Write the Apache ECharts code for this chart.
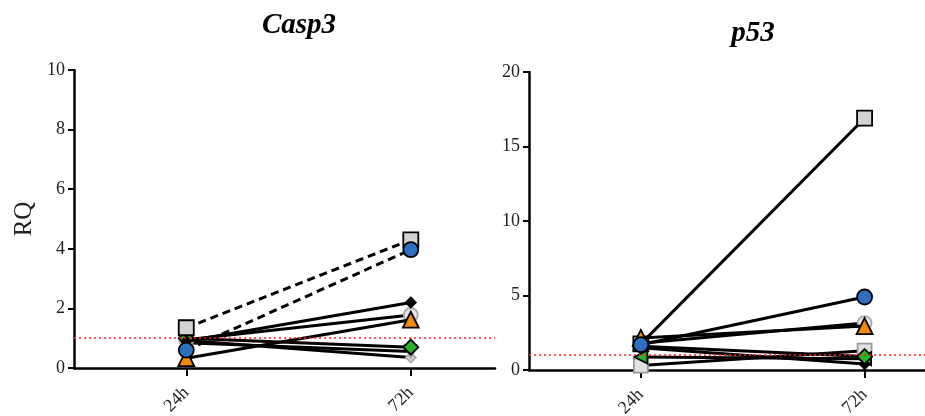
<!DOCTYPE html>
<html><head><meta charset="utf-8">
<script src="https://cdn.jsdelivr.net/npm/echarts@6/dist/echarts.min.js"></script>
<style>html,body{margin:0;padding:0;background:#fff}#c{width:925px;height:416px}</style>
</head><body><div id="c"></div>
<script>
// categories (time points)
const categories = ['24h', '72h'];
const yTicksCasp3 = [0, 2, 4, 6, 8, 10];
const yTicksP53 = [0, 5, 10, 15, 20];

// Casp3 RQ values [24h, 72h]
const casp3_square = [1.35, 4.3];
const casp3_circle = [0.6, 3.97];
const casp3_blackDiamond = [0.9, 2.2];
const casp3_grayCircle = [0.95, 1.78];
const casp3_triangle = [0.33, 1.62];
const casp3_greenDiamond = [1.0, 0.7];
const casp3_grayTriangle = [0.85, 0.55];
const casp3_graySmall = [0.92, 0.35];

// p53 RQ values [24h, 72h]
const p53_square = [1.75, 16.9];
const p53_circle = [1.7, 4.9];
const p53_triangle = [2.15, 2.95];
const p53_grayCircle = [1.8, 3.15];
const p53_greenDiamond = [1.6, 0.9];
const p53_blackDiamond = [1.5, 0.4];
const p53_greenTriangle = [0.87, 0.75];
const p53_graySquare = [0.3, 1.3];

const SERIF = 'Liberation Serif';
const sym = {
  square:  {symbol: 'rect', symbolSize: 15, fill: '#d3d3d3', border: '#000'},
  circle:  {symbol: 'circle', symbolSize: 15, fill: '#2f6fc0', border: '#000'},
  bd:      {symbol: 'diamond', symbolSize: 10, fill: '#000', border: '#000'},
  gc:      {symbol: 'circle', symbolSize: 14, fill: '#e6e6e6', border: '#aaaaaa'},
  tri:     {symbol: 'triangle', symbolSize: 16, fill: '#f08a0c', border: '#000'},
  gd:      {symbol: 'diamond', symbolSize: 15, fill: '#26b526', border: '#000'},
  gt:      {symbol: 'triangle', symbolSize: 13, fill: '#d8d8d8', border: '#aaaaaa', rotate: 180},
  gs:      {symbol: 'diamond', symbolSize: 10, fill: '#d8d8d8', border: '#aaaaaa'},
  gtl:     {symbol: 'triangle', symbolSize: 13, fill: '#26b526', border: '#000', rotate: 90},
  gsq:     {symbol: 'rect', symbolSize: 14, fill: '#e2e2e2', border: '#9a9a9a'}
};

function mk(idx, vals, s, dashed, z) {
  return {
    type: 'line', xAxisIndex: idx, yAxisIndex: idx,
    data: vals.map((v, i) => [i + 1, v]),
    symbol: s.symbol, symbolSize: s.symbolSize, symbolRotate: s.rotate || 0,
    lineStyle: {color: '#000', width: 3, type: dashed ? [8, 5] : 'solid'},
    itemStyle: {color: s.fill, borderColor: s.border, borderWidth: 1.8},
    z: z || 2, animation: false, silent: true
  };
}
function refLine(idx) {
  return {
    type: 'line', xAxisIndex: idx, yAxisIndex: idx, data: [], animation: false,
    markLine: {silent: true, symbol: 'none', label: {show: false},
      lineStyle: {color: '#ff2020', type: [2, 3], width: 1.5},
      data: [{yAxis: 1}]}, z: 1
  };
}
function xAx(idx, max) {
  return {
    type: 'value', gridIndex: idx, min: 0.5, max: max,
    axisLine: {show: true, lineStyle: {color: '#000', width: 2.5}},
    axisTick: {show: true, customValues: [1, 2], length: 8, lineStyle: {color: '#000', width: 2}},
    axisLabel: {customValues: [1, 2], rotate: 45, margin: 22, color: '#222',
      fontFamily: SERIF, fontSize: 18, formatter: v => categories[Math.round(v) - 1] || ''},
    splitLine: {show: false}
  };
}
function yAx(idx, ticks, name) {
  return {
    type: 'value', gridIndex: idx, min: ticks[0], max: ticks[ticks.length - 1],
    interval: ticks[1] - ticks[0],
    name: name, nameLocation: 'middle', nameGap: 37,
    nameTextStyle: {fontFamily: SERIF, fontSize: 25, color: '#222'},
    axisLine: {show: true, lineStyle: {color: '#000', width: 2.5}},
    axisTick: {show: true, length: 6, lineStyle: {color: '#000', width: 2}},
    axisLabel: {color: '#222', fontFamily: SERIF, fontSize: 18, margin: 9},
    splitLine: {show: false}
  };
}

const option = {
  backgroundColor: '#fff',
  title: [
    {text: 'Casp3', left: 294, top: 6, textAlign: 'center',
      textStyle: {fontFamily: SERIF, fontStyle: 'italic', fontWeight: 'bold', fontSize: 29, color: '#000'}},
    {text: 'p53', left: 748, top: 14, textAlign: 'center',
      textStyle: {fontFamily: SERIF, fontStyle: 'italic', fontWeight: 'bold', fontSize: 29, color: '#000'}}
  ],
  grid: [
    {left: 74, top: 70, width: 421, height: 298, outerBoundsMode: 'none', containLabel: false},
    {left: 529, top: 72, right: 0, height: 298, outerBoundsMode: 'none', containLabel: false}
  ],
  xAxis: [xAx(0, 2.375), xAx(1, 2.27)],
  yAxis: [yAx(0, yTicksCasp3, 'RQ'), yAx(1, yTicksP53, '')],
  series: [
    refLine(0), refLine(1),
    mk(0, casp3_graySmall, sym.gs),
    mk(0, casp3_grayTriangle, sym.gt),
    mk(0, casp3_grayCircle, sym.gc),
    mk(0, casp3_greenDiamond, sym.gd, false, 3),
    mk(0, casp3_triangle, sym.tri, false, 3),
    mk(0, casp3_blackDiamond, sym.bd, false, 3),
    mk(0, casp3_circle, sym.circle, true, 4),
    mk(0, casp3_square, sym.square, true, 3),
    mk(1, p53_graySquare, sym.gsq),
    mk(1, p53_grayCircle, sym.gc),
    mk(1, p53_square, sym.square, false, 2),
    mk(1, p53_greenTriangle, sym.gtl, false, 3),
    mk(1, p53_blackDiamond, sym.bd, false, 3),
    mk(1, p53_greenDiamond, sym.gd, false, 3),
    mk(1, p53_triangle, sym.tri, false, 3),
    mk(1, p53_circle, sym.circle, false, 4)
  ]
};
const chart = echarts.init(document.getElementById('c'), null, {renderer: 'canvas'});
chart.setOption(option);
</script></body></html>
